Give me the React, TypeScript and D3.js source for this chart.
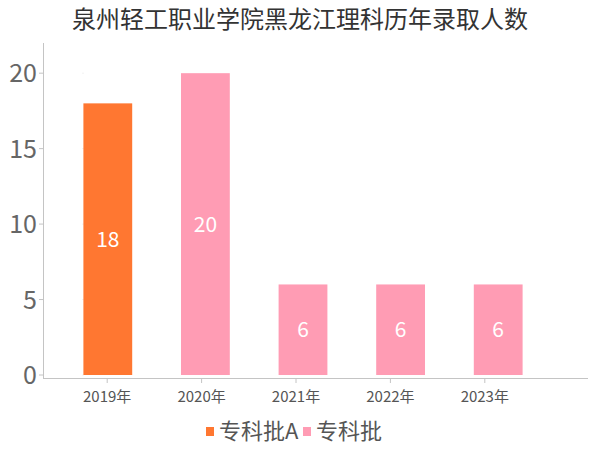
import React from "react";
import * as d3 from "d3";

const title = "泉州轻工职业学院黑龙江理科历年录取人数";
const years = ["2019年", "2020年", "2021年", "2022年", "2023年"];
const values = [18, 20, 6, 6, 6];
const batches = ["专科批A", "专科批", "专科批", "专科批", "专科批"];
const legendItems = ["专科批A", "专科批"];
const yTicks = [0, 5, 10, 15, 20];

const colors: Record<string, string> = {
  "专科批A": "#FF7731",
  "专科批": "#FF9CB4",
};

const W = 600;
const H = 450;
const font = "'Noto Sans CJK SC', 'Noto Sans', sans-serif";

const App: React.FC = () => {
  const y = d3.scaleLinear().domain([0, 22]).range([375, 43]);
  // label positions and bar positions use slightly different bands
  const xLabel = d3.scaleBand<string>().domain(years).range([60, 532]);
  const xBar = d3
    .scaleBand<string>()
    .domain(years)
    .range([59, 547])
    .paddingInner(0.5)
    .paddingOuter(0.25);

  const legendX = [206, 303];

  return (
    <svg
      width={W}
      height={H}
      style={{ position: "absolute", left: 0, top: 0, background: "#fff" }}
      fontFamily={font}
    >
      <text x={300} y={28} textAnchor="middle" fontSize={24} fill="#333">
        {title}
      </text>

      {/* y axis */}
      <line x1={43.5} x2={43.5} y1={43} y2={379} stroke="#c4c4c4" />
      {yTicks.map((t) => (
        <g key={t}>
          <line x1={39} x2={43} y1={y(t)} y2={y(t)} stroke="#c4c4c4" />
          <line x1={82} x2={84} y1={y(t)} y2={y(t)} stroke="#f2f2f2" />
          <text
            x={37}
            y={y(t)}
            dy="0.36em"
            textAnchor="end"
            fontSize={25}
            fill="#666"
          >
            {t}
          </text>
        </g>
      ))}

      {/* x axis */}
      <line x1={43} x2={588} y1={378.5} y2={378.5} stroke="#c4c4c4" />
      {years.map((yr) => {
        const cx = xLabel(yr)! + xLabel.bandwidth() / 2;
        return (
          <g key={yr}>
            <line x1={cx} x2={cx} y1={379} y2={383} stroke="#c4c4c4" />
            <text
              x={cx}
              y={402}
              textAnchor="middle"
              fontSize={15}
              fill="#555"
            >
              {yr}
            </text>
          </g>
        );
      })}

      {/* bars */}
      {years.map((yr, i) => {
        const bx = xBar(yr)!;
        const bw = xBar.bandwidth();
        const top = y(values[i]);
        const base = y(0);
        return (
          <g key={yr}>
            <rect
              x={bx}
              y={top}
              width={bw}
              height={base - top}
              fill={colors[batches[i]]}
            />
            <text
              x={bx + bw / 2}
              y={(top + base) / 2}
              dy="0.36em"
              textAnchor="middle"
              fontSize={21}
              fill="#fff"
            >
              {values[i]}
            </text>
          </g>
        );
      })}

      {/* legend */}
      {legendItems.map((name, i) => (
        <g key={name} transform={`translate(${legendX[i]},0)`}>
          <rect x={0} y={427} width={8} height={9} fill={colors[name]} />
          <text x={13} y={439} fontSize={22} fill="#555">
            {name}
          </text>
        </g>
      ))}
    </svg>
  );
};

export default App;
